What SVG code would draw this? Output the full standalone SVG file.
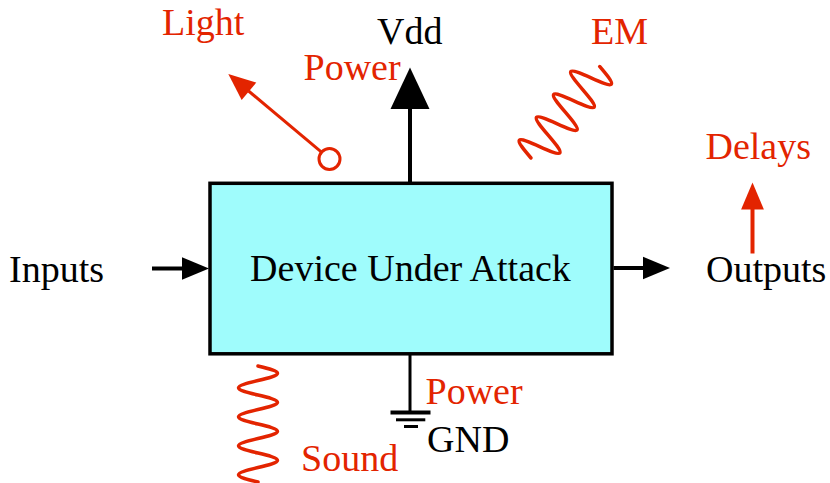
<svg xmlns="http://www.w3.org/2000/svg" width="830" height="483" viewBox="0 0 830 483">
  <style>
    text { font-family: "Liberation Serif", "Times New Roman", serif; font-size: 38px; }
    .blk { fill: #000000; }
    .red { fill: #e32400; }
    .box { fill: #9ffcfc; stroke: #000000; stroke-width: 3.5; }
    .wireB { stroke: #000000; stroke-width: 4; fill: none; }
    .wireG { stroke: #000000; stroke-width: 3; fill: none; }
    .wireR { stroke: #e32400; stroke-width: 4; fill: none; }
    .lightR { stroke: #e32400; stroke-width: 3; fill: none; }
    .wave { stroke: #e32400; stroke-width: 3.5; fill: none; stroke-linecap: round; }
    .gbar { stroke: #000000; fill: none; }
  </style>
  <defs>
    <marker id="arrB" markerUnits="userSpaceOnUse" orient="auto" markerWidth="28" markerHeight="23" refX="0.5" refY="11.3" overflow="visible">
      <path d="M0,0 L27,11.3 L0,22.6 z" fill="#000000"/>
    </marker>
    <marker id="arrBig" markerUnits="userSpaceOnUse" orient="auto" markerWidth="42" markerHeight="39" refX="0.5" refY="19.5" overflow="visible">
      <path d="M0,0 L41.5,19.5 L0,39 z" fill="#000000"/>
    </marker>
    <marker id="arrR" markerUnits="userSpaceOnUse" orient="auto" markerWidth="28" markerHeight="23" refX="0.5" refY="11.4" overflow="visible">
      <path d="M0,0 L27,11.4 L0,22.8 z" fill="#e32400"/>
    </marker>
  </defs>

  <g id="connectors">
    <line id="in-arrow" class="wireB" x1="152" y1="268.5" x2="182.5" y2="268.5" marker-end="url(#arrB)"/>
    <line id="out-arrow" class="wireB" x1="613.5" y1="268" x2="643.5" y2="268" marker-end="url(#arrB)"/>
    <line id="vdd-arrow" class="wireB" x1="410" y1="182" x2="410" y2="108.5" marker-end="url(#arrBig)"/>
    <line id="gnd-wire" class="wireG" x1="410" y1="355" x2="410" y2="412"/>
    <line id="light-arrow" class="lightR" x1="321.5" y1="152.2" x2="248.6" y2="91" marker-end="url(#arrR)"/>
    <line id="delay-arrow" class="wireR" x1="752.5" y1="253.5" x2="752.5" y2="209" marker-end="url(#arrR)"/>
  </g>

  <g id="device">
    <rect class="box" x="210" y="183.3" width="402" height="170.5"/>
    <text class="blk" x="410.5" y="281" text-anchor="middle">Device Under Attack</text>
  </g>

  <g id="inputs">
    <text class="blk" x="9" y="281.5">Inputs</text>
  </g>

  <g id="outputs">
    <text class="blk" x="706" y="281.5">Outputs</text>
  </g>

  <g id="vdd">
    <text class="blk" x="377" y="43.5">Vdd</text>
    <text class="red" x="303.5" y="80">Power</text>
  </g>

  <g id="gnd">
    <line class="gbar" stroke-width="4" x1="390.5" y1="412.5" x2="430.5" y2="412.5"/>
    <line class="gbar" stroke-width="3" x1="396" y1="419.8" x2="425.3" y2="419.8"/>
    <line class="gbar" stroke-width="3" x1="404" y1="426.5" x2="418" y2="426.5"/>
    <text class="red" x="425.5" y="404">Power</text>
    <text class="blk" x="427" y="451.5">GND</text>
  </g>

  <g id="light">
    <circle class="lightR" cx="329.5" cy="159" r="10.5" fill="none"/>
    <text class="red" x="162" y="35">Light</text>
  </g>

  <g id="em">
    <path class="wave" transform="translate(531,158) rotate(-53.13)" d="M0,0 C2.33,-10.24 4.56,-20 7.15,-20 C12.36,-20 16.24,20 21.45,20 S30.54,-20 35.75,-20 S44.84,20 50.05,20 S59.14,-20 64.35,-20 S73.44,20 78.65,20 S87.74,-20 92.95,-20 S102.04,20 107.25,20 C109.84,20 112.07,10.24 114.4,0"/>
    <text class="red" x="591" y="43.5">EM</text>
  </g>

  <g id="delays">
    <text class="red" x="705.5" y="158.5">Delays</text>
  </g>

  <g id="sound">
    <path class="wave" d="M258,366 C268,368.4 277.5,370.6 277.5,373.3 C277.5,378.6 238.5,382.5 238.5,387.8 S277.5,397 277.5,402.3 S238.5,411.5 238.5,416.8 S277.5,426 277.5,431.3 S238.5,440.5 238.5,445.8 S277.5,455 277.5,460.3 S238.5,469.5 238.5,474.8 C238.5,477.4 248,479.7 258,482"/>
    <text class="red" x="301" y="471">Sound</text>
  </g>
</svg>
